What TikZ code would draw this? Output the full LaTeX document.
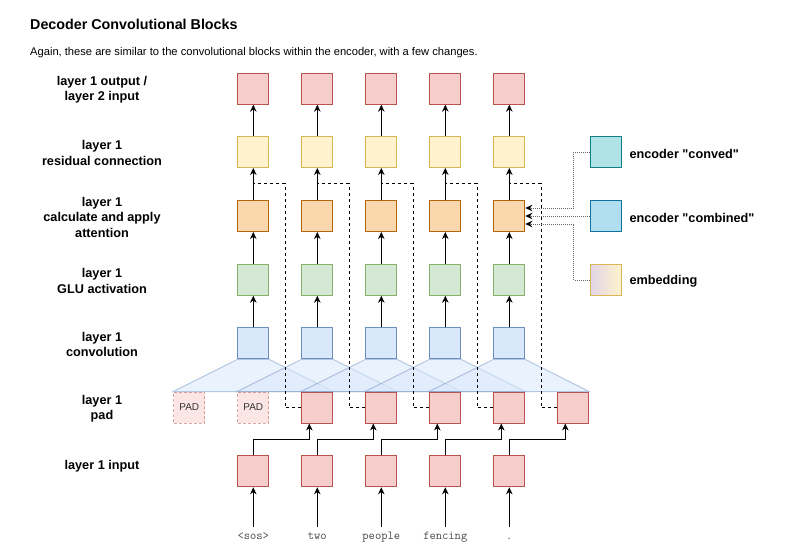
\documentclass[tikz,border=0pt]{standalone}
\usepackage{fontspec}
\setmainfont{Liberation Sans}
\newfontfamily\plainsans{Liberation Sans}
\usetikzlibrary{arrows.meta,calc}
\definecolor{redF}{HTML}{F8CECC}\definecolor{redD}{HTML}{B85450}
\definecolor{yelF}{HTML}{FFF2CC}\definecolor{yelD}{HTML}{D6B656}
\definecolor{oraF}{HTML}{FAD7AC}\definecolor{oraD}{HTML}{B46504}
\definecolor{greF}{HTML}{D5E8D4}\definecolor{greD}{HTML}{82B366}
\definecolor{bluF}{HTML}{DAE8FC}\definecolor{bluD}{HTML}{6C8EBF}
\definecolor{cyaF}{HTML}{B0E3E6}\definecolor{cyaD}{HTML}{0E8088}
\definecolor{cmbF}{HTML}{B1DDF0}\definecolor{cmbD}{HTML}{10739E}
\definecolor{purF}{HTML}{E1D5E7}
\definecolor{dotc}{HTML}{666666}
\pgfdeclarelayer{bg}
\pgfsetlayers{bg,main}
\begin{document}
\begin{tikzpicture}[x=1pt,y=-1pt,
  box/.style={draw, line width=1pt, minimum width=31pt, minimum height=31pt, inner sep=0pt},
  redbox/.style={box, fill=redF, draw=redD},
  yelbox/.style={box, fill=yelF, draw=yelD},
  orabox/.style={box, fill=oraF, draw=oraD},
  grebox/.style={box, fill=greF, draw=greD},
  blubox/.style={box, fill=bluF, draw=bluD},
  padbox/.style={box, fill=redF, fill opacity=0.5, draw=redD, draw opacity=0.5, dashed, dash pattern=on 3pt off 2pt, text opacity=1, font=\fontsize{10}{12}\selectfont, text=black!80},
  lbl/.style={font=\fontsize{12.7}{15.5}\selectfont\bfseries, align=center},
  leg/.style={font=\plainsans\fontsize{12.7}{15.5}\selectfont\bfseries, anchor=west},
  word/.style={font=\ttfamily\fontsize{12.2}{14}\selectfont, text=black!70, text height=7pt, text depth=2pt, inner sep=0pt, anchor=base},
  arr/.style={line width=1pt, -{Stealth[length=7pt,width=6.5pt,inset=2.2pt]}},
  resid/.style={line width=1pt, dash pattern=on 3pt off 3pt},
  dotarr/.style={line width=1pt, draw=dotc, dash pattern=on 1pt off 1pt, -{Stealth[length=7pt,width=6.5pt,inset=2.2pt,color=black]}},
  trap/.style={fill=bluF, fill opacity=0.55, draw=bluD, draw opacity=0.45, line width=1pt}
]
\begin{pgfonlayer}{bg}
\fill[white] (0,0) rectangle (789,549);
\end{pgfonlayer}
\useasboundingbox (0,0) rectangle (789,549);

% title
\node[anchor=base west, inner sep=0pt, font=\fontsize{14.3}{17}\selectfont\bfseries] (title) at (30,29.3) {Decoder Convolutional Blocks};
\node[anchor=base west, inner sep=0pt, font=\fontsize{11.15}{13}\selectfont] (subtitle) at (30,55.5) {Again, these are similar to the convolutional blocks within the encoder, with a few changes.};

% left labels
\node[lbl] (l1) at (102,89.5) {layer 1 output /\\layer 2 input};
\node[lbl] (l2) at (102,153) {layer 1\\residual connection};
\node[lbl] (l3) at (102,217) {layer 1\\calculate and apply\\attention};
\node[lbl] (l4) at (102,281) {layer 1\\GLU activation};
\node[lbl] (l5) at (102,344.5) {layer 1\\convolution};
\node[lbl] (l6) at (102,408.5) {layer 1\\pad};
\node[lbl] (l7) at (102,466) {layer 1 input};

% columns
\foreach \i in {1,...,5}{
  \pgfmathsetmacro\cx{253.3+64*(\i-1)}
  \node[redbox] (out\i) at (\cx,88.7) {};
  \node[yelbox] (res\i) at (\cx,151.9) {};
  \node[orabox] (att\i) at (\cx,216.0) {};
  \node[grebox] (glu\i) at (\cx,279.7) {};
  \node[blubox] (conv\i) at (\cx,343.4) {};
  \node[redbox] (in\i) at (\cx,471.3) {};
}
\foreach \i in {1,...,7}{
  \pgfmathsetmacro\cx{189.3+64*(\i-1)}
  \ifnum\i<3
    \node[padbox] (pad\i) at (\cx,407.5) {PAD};
  \else
    \node[redbox] (pad\i) at (\cx,407.5) {};
  \fi
}

% words
\node[word] (w1) at (253.3,539.3) {<sos>};
\node[word] (w2) at (317.3,539.3) {two};
\node[word] (w3) at (381.3,539.3) {people};
\node[word] (w4) at (445.3,539.3) {fencing};
\node[word] (w5) at (509.3,539.3) {.};

% trapezoids (convolution windows)
\begin{pgfonlayer}{bg}
\foreach \i [evaluate=\i as \j using int(\i+2)] in {1,...,5}{
  \draw[trap] (conv\i.south west) -- (conv\i.south east) -- (pad\j.north east) -- (pad\i.north west) -- cycle;
}
\end{pgfonlayer}

% vertical arrows
\foreach \i [evaluate=\i as \j using int(\i+2)] in {1,...,5}{
  \draw[arr] (conv\i.north) -- (glu\i.south);
  \draw[arr] (glu\i.north) -- (att\i.south);
  \draw[arr] (att\i.north) -- (res\i.south);
  \draw[arr] (res\i.north) -- (out\i.south);
  \draw[arr] ([yshift=5pt]w\i.north) -- (in\i.south);
  \draw[arr] (in\i.north) -- ++(0,-16) -| ([xshift=-8pt]pad\j.south);
  % residual connection
  \coordinate (rj\i) at ($(res\i.south)+(0,15.6)$);
  \draw[resid] (pad\j.west) -- ++(-16,0) |- (rj\i);
}

% legend
\node[box, fill=cyaF, draw=cyaD] (conved) at (605.5,152) {};
\node[box, fill=cmbF, draw=cmbD] (combined) at (605.5,216) {};
\node[box, left color=purF, right color=yelF, draw=yelD] (emb) at (605.5,280) {};
\node[leg] (tconved) at (626,154) {encoder "conved"};
\node[leg] (tcombined) at (626,218) {encoder "combined"};
\node[leg] (temb) at (626,281) {embedding};

\draw[dotarr] (conved.west) -- ++(-16,0) |- ([yshift=8pt]att5.east);
\draw[dotarr] (combined.west) -- (att5.east);
\draw[dotarr] (emb.west) -- ++(-16,0) |- ([yshift=-8pt]att5.east);
\end{tikzpicture}
\end{document}
